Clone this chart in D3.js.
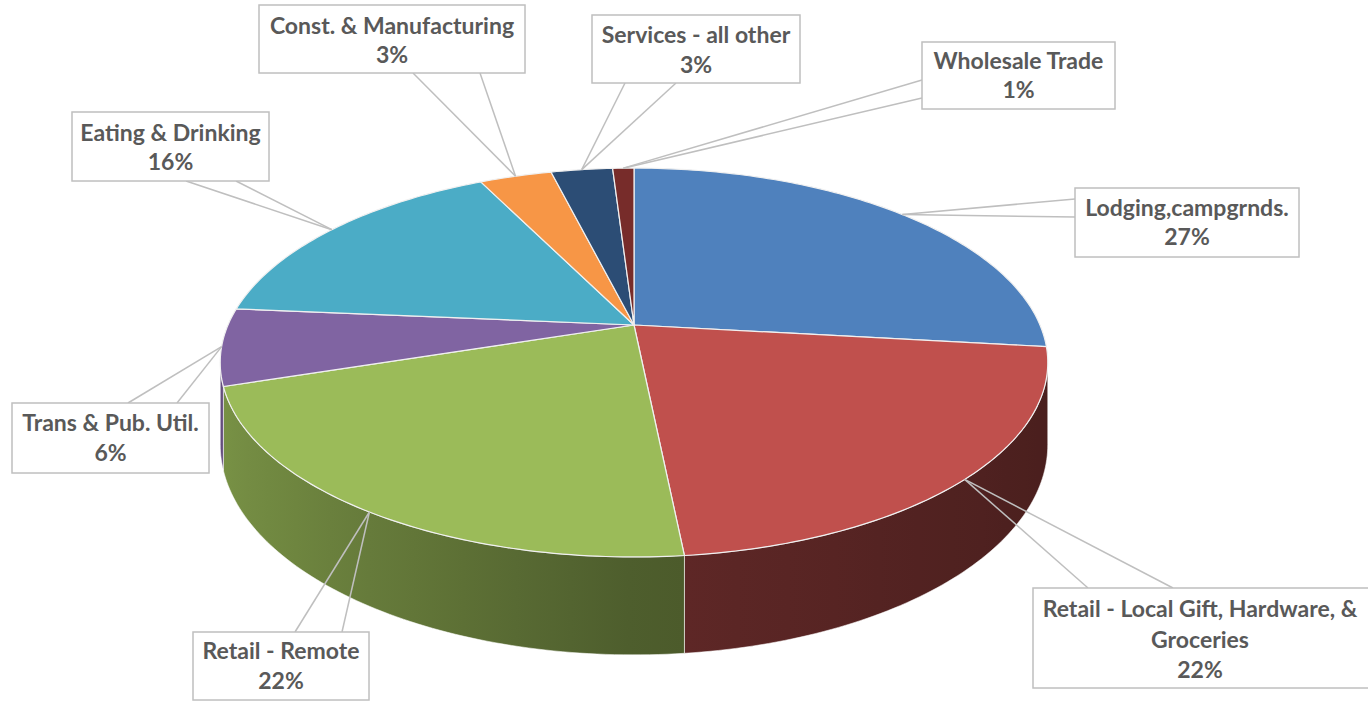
<!DOCTYPE html>
<html>
<head>
<meta charset="utf-8">
<script src="https://cdn.jsdelivr.net/npm/d3@7"></script>
<style>
  body { margin: 0; background: #fff; }
  .lbl { font-family: Lato, "Open Sans", sans-serif; font-weight: 700; font-size: 23px; fill: #595959; }
</style>
</head>
<body>
<svg id="chart" width="1368" height="701"></svg>
<script>
// data
const categories = [
  "Lodging,campgrnds.",
  "Retail - Local Gift, Hardware, & Groceries",
  "Retail - Remote",
  "Trans & Pub. Util.",
  "Eating & Drinking",
  "Const. & Manufacturing",
  "Services - all other",
  "Wholesale Trade"
];
const shares = [26.8, 21.6, 21.6, 6.4, 16.3, 3.4, 2.9, 1.0];
const sliceColors = ["#4f81bd", "#c0504d", "#9bbb59", "#8064a2", "#4bacc6", "#f79646", "#2c4d75", "#772c2a"];

// label callout layout (box, tail points on the box, text baselines, words on first line)
const labelBoxes = [
  { x: 1075, y: 188, w: 224, h: 69, tail: [[1075, 199], [1075, 217]], base: [216, 245] },
  { x: 1033, y: 588, w: 345, h: 100, tail: [[1088, 588], [1173, 588]], base: [617, 648, 678], split: 6, mid: 1200 },
  { x: 193, y: 632, w: 176, h: 68, tail: [[295, 632], [342, 632]], base: [659, 689] },
  { x: 12, y: 403, w: 197, h: 70, tail: [[128, 403], [177, 403]], base: [431, 461] },
  { x: 72, y: 112, w: 197, h: 69, tail: [[186, 181], [236, 181]], base: [141, 170] },
  { x: 259, y: 5, w: 266, h: 68, tail: [[413, 73], [480, 73]], base: [34, 63] },
  { x: 592, y: 15, w: 208, h: 68, tail: [[625, 83], [676, 83]], base: [43, 73] },
  { x: 922, y: 42, w: 193, h: 67, tail: [[922, 80], [922, 98]], base: [69, 98] }
];

const svg = d3.select("#chart");
const defs = svg.append("defs");

// simple perspective projection of the tilted disc
const cx = 634, cy = 325, rx = 406, ry = 187.2, persp = 0.193, thick = 79;
function proj(a, drop) {
  const u = Math.sin(a), v = Math.cos(a), d = 1 + persp * v;
  return [cx + rx * u / d, cy - ry * v / d + (drop || 0) / d];
}
function arcPts(a0, a1, drop) {
  const n = Math.max(2, Math.ceil((a1 - a0) / (Math.PI / 180)));
  return d3.range(n + 1).map(k => proj(a0 + (a1 - a0) * k / n, drop));
}

const total = d3.sum(shares);
const data = categories.map((c, i) => ({ name: c, value: shares[i], color: sliceColors[i], box: labelBoxes[i] }));
const pie = d3.pie().sort(null).value(d => d.value);
const arcs = pie(data);

const shade = d3.scaleLinear().domain([-1, 0, 1]).range([0.79, 0.5, 0.38]);
const line = d3.line();

// side walls (front half only), shaded with a horizontal gradient
const visA0 = Math.acos(-persp), visA1 = 2 * Math.PI - visA0;
arcs.forEach((s, i) => {
  const a0 = Math.max(s.startAngle, visA0), a1 = Math.min(s.endAngle, visA1);
  if (a1 > a0) s.wall = [a0, a1];
});
const walls = arcs.filter(s => s.wall);

walls.forEach((s, i) => {
  const [a0, a1] = s.wall;
  const xa = proj(a0)[0], xb = proj(a1)[0];
  const g = defs.append("linearGradient")
    .attr("id", "wall" + i)
    .attr("gradientUnits", "userSpaceOnUse")
    .attr("x1", xa).attr("x2", xb).attr("y1", 0).attr("y2", 0);
  const n = 12;
  d3.range(n + 1).forEach(k => {
    const a = a0 + (a1 - a0) * k / n;
    const x = proj(a)[0];
    const c = d3.rgb(s.data.color), f = shade(Math.sin(a));
    g.append("stop")
      .attr("offset", Math.abs(xb - xa) < 1 ? 0 : (x - xa) / (xb - xa))
      .attr("stop-color", d3.rgb(c.r * f, c.g * f, c.b * f));
  });
  s.grad = "url(#wall" + i + ")";
});

svg.append("g")
  .selectAll("path")
  .data(walls)
  .enter()
  .append("path")
  .attr("d", s => line(arcPts(s.wall[0], s.wall[1], 0).concat(arcPts(s.wall[0], s.wall[1], thick).reverse())) + "Z")
  .attr("fill", s => s.grad)
  .attr("stroke", "rgba(255,255,255,0.55)")
  .attr("stroke-width", 1);

// top faces
svg.append("g")
  .selectAll("path")
  .data(arcs)
  .enter()
  .append("path")
  .attr("d", s => line([[cx, cy]].concat(arcPts(s.startAngle, s.endAngle, 0))) + "Z")
  .attr("fill", s => s.data.color)
  .attr("stroke", "#f0f0f0")
  .attr("stroke-width", 1.2)
  .attr("stroke-linejoin", "round");

// callouts
const lab = svg.append("g");
arcs.forEach(s => {
  const b = s.data.box;
  const anchor = proj((s.startAngle + s.endAngle) / 2);
  b.tail.forEach(t => {
    lab.append("line")
      .attr("x1", t[0]).attr("y1", t[1])
      .attr("x2", anchor[0]).attr("y2", anchor[1])
      .attr("stroke", "#bfbfbf").attr("stroke-width", 1.5);
  });
});
arcs.forEach(s => {
  const b = s.data.box;
  lab.append("rect")
    .attr("x", b.x).attr("y", b.y).attr("width", b.w).attr("height", b.h)
    .attr("fill", "#fff").attr("stroke", "#bfbfbf").attr("stroke-width", 1.5);
  const words = s.data.name.split(" ");
  const lines = b.split ? [words.slice(0, b.split).join(" "), words.slice(b.split).join(" ")] : [s.data.name];
  lines.push(Math.round(s.data.value / total * 100) + "%");
  const mid = b.mid || b.x + b.w / 2;
  lines.forEach((t, i) => {
    lab.append("text")
      .attr("class", "lbl")
      .attr("x", mid)
      .attr("y", b.base[i])
      .attr("text-anchor", "middle")
      .text(t);
  });
});
</script>
</body>
</html>
